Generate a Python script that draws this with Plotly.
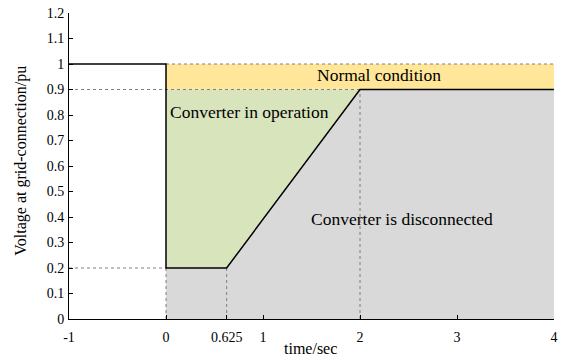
import plotly.graph_objects as go

# data
volt_t = [-1, 0, 0, 0.625, 2, 4]
volt_v = [1, 1, 0.2, 0.2, 0.9, 0.9]
normal_t = [0, 4, 4, 0]
normal_v = [0.9, 0.9, 1.0, 1.0]
oper_t = [0, 0, 2, 0.625]
oper_v = [0.2, 0.9, 0.9, 0.2]
disc_t = [0, 0, 0.625, 2, 4, 4]
disc_v = [0, 0.2, 0.2, 0.9, 0.9, 0]
guides = [
    ([-1, 0], [0.2, 0.2]),
    ([0, 0], [0, 0.2]),
    ([0.625, 0.625], [0, 0.2]),
    ([2, 2], [0, 0.9]),
    ([-1, 2], [0.9, 0.9]),
    ([0, 4], [1, 1]),
]
x_ticks = [-1, 0, 0.625, 1, 2, 3, 4]
x_labels = ["-1", "0", "0.625", "1", "2", "3", "4"]
y_ticks = [0, 0.1, 0.2, 0.3, 0.4, 0.5, 0.6, 0.7, 0.8, 0.9, 1, 1.1, 1.2]
y_labels = ["0", "0.1", "0.2", "0.3", "0.4", "0.5", "0.6", "0.7", "0.8", "0.9", "1", "1.1", "1.2"]
labels = [
    ("Normal condition", 2.2, 0.955),
    ("Converter in operation", 0.865, 0.812),
    ("Converter is disconnected", 2.436, 0.392),
]

FONT = "Liberation Serif"
fig = go.Figure()
fig.add_trace(go.Scatter(x=normal_t, y=normal_v, fill="toself", fillcolor="#FFE699",
                         line=dict(width=0), mode="lines", hoverinfo="skip"))
fig.add_trace(go.Scatter(x=oper_t, y=oper_v, fill="toself", fillcolor="#D8E4BC",
                         line=dict(width=0), mode="lines", hoverinfo="skip"))
fig.add_trace(go.Scatter(x=disc_t, y=disc_v, fill="toself", fillcolor="#D9D9D9",
                         line=dict(width=0), mode="lines", hoverinfo="skip"))
for gx, gy in guides:
    fig.add_trace(go.Scatter(x=gx, y=gy, mode="lines",
                             line=dict(color="#7F7F7F", width=1, dash="dot"), hoverinfo="skip"))
fig.add_trace(go.Scatter(x=volt_t, y=volt_v, mode="lines",
                         line=dict(color="black", width=1.5)))
for txt, tx, ty in labels:
    fig.add_annotation(x=tx, y=ty, text=txt, showarrow=False,
                       xanchor="center", yanchor="middle",
                       font=dict(family=FONT, size=17.5, color="black"))

fig.add_annotation(xref="paper", yref="paper", x=0.497, y=-0.098, text="time/sec",
                   xanchor="center", yanchor="middle",
                   showarrow=False, font=dict(family=FONT, size=16, color="black"))
fig.add_annotation(xref="paper", yref="paper", x=-0.0986, y=0.518, text="Voltage at grid-connection/pu",
                   xanchor="center", yanchor="middle",
                   textangle=-90, showarrow=False, font=dict(family=FONT, size=16, color="black"))

fig.update_layout(
    width=563, height=361, showlegend=False,
    plot_bgcolor="white", paper_bgcolor="white",
    margin=dict(l=69, r=9, t=13, b=42),
    font=dict(family=FONT, size=14, color="black"),
    xaxis=dict(range=[-1, 4], tickvals=x_ticks, ticktext=x_labels, showline=True,
               linecolor="black", linewidth=1, ticks="inside", ticklen=4, tickcolor="black",
               showgrid=False, zeroline=False, automargin=False, ticklabelstandoff=5),
    yaxis=dict(range=[0, 1.2], tickvals=y_ticks, ticktext=y_labels, showline=True,
               linecolor="black", linewidth=1, ticks="inside", ticklen=4, tickcolor="black",
               showgrid=False, zeroline=False, automargin=False, ticklabelstandoff=1),
)
fig.write_html("out.html", config={"displayModeBar": False},
               post_script="document.body.style.margin='0';")
